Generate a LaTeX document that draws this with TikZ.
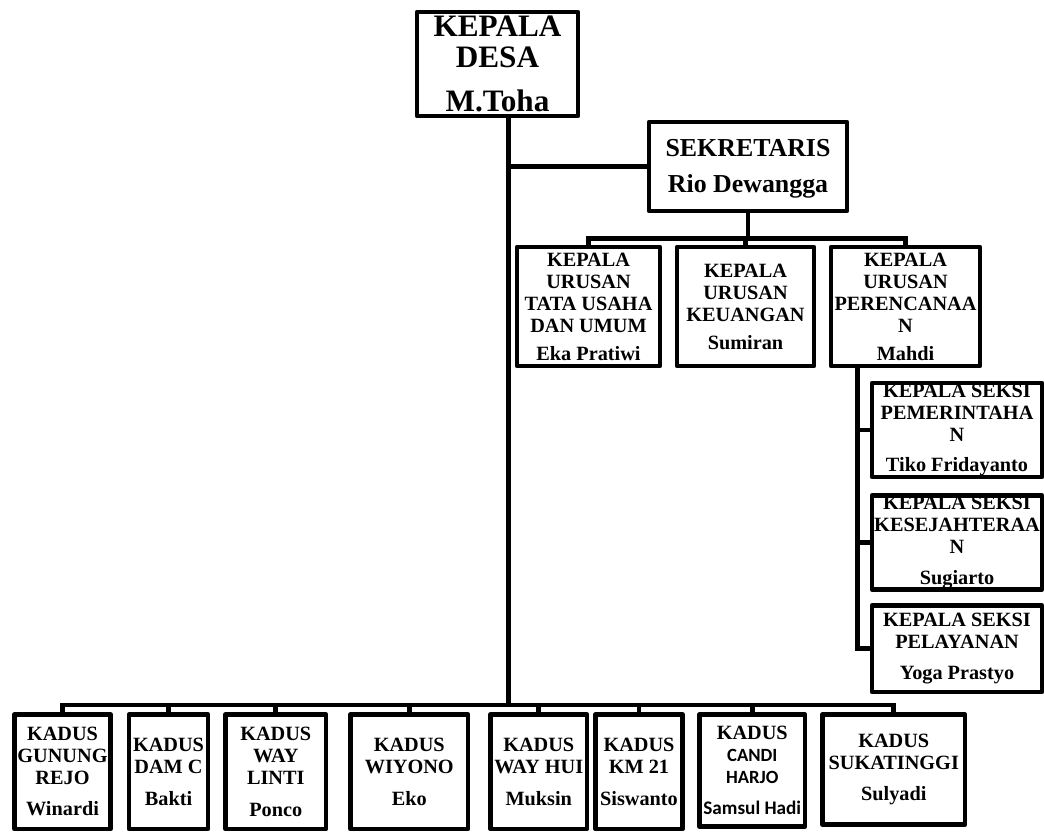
\documentclass[tikz,border=0pt]{standalone}
\usepackage{fontspec}
\setmainfont{Liberation Serif}
\newfontfamily\carlito{Carlito}
\begin{document}
\begin{tikzpicture}[x=0.75pt,y=-0.75pt,
  bx/.style 2 args={draw=black, line width=3.6pt, line join=round, inner sep=0pt,
     minimum width=#1*0.75pt, minimum height=#2*0.75pt, fill=white},
  ln/.style={line width=3.6pt, line cap=rect},
  tbig/.style={inner sep=0pt, align=center, font=\fontsize{23.4}{23.3}\selectfont\bfseries},
  tsek/.style={inner sep=0pt, align=center, font=\fontsize{19.4}{27}\selectfont\bfseries},
  tmid/.style={inner sep=0pt, align=center, font=\fontsize{15.2}{16.5}\selectfont\bfseries},
]
\useasboundingbox (0,0) rectangle (1044,832);
\coordinate (tb) at (508.5,705);
\coordinate (ub) at (749,238.5);
\coordinate (sv) at (857.5,646.5);

% boxes
\node[bx={161}{104}] (kd) at (497.5,64) {};
\node[bx={198}{89}] (sek) at (748,166.5) {};
\node[bx={143}{119}] (u1) at (588.5,306.5) {};
\node[bx={137}{119}] (u2) at (745.5,306.5) {};
\node[bx={149}{119}] (u3) at (905.5,306.5) {};
\node[bx={170}{94}] (s1) at (957,430) {};
\node[bx={170}{94}] (s2) at (957,542.5) {};
\node[bx={170}{86.5}] (s3) at (957,648.75) {};
\node[bx={96}{114.5}] (k1) at (62.5,771.75) {};
\node[bx={79}{114.5}] (k2) at (168.5,771.75) {};
\node[bx={100.5}{114.5}] (k3) at (275.75,771.75) {};
\node[bx={117.5}{114.5}] (k4) at (409.25,771.75) {};
\node[bx={96.5}{114.5}] (k5) at (538.75,771.75) {};
\node[bx={87}{114.5}] (k6) at (639,771.75) {};
\node[bx={105.5}{112}] (k7) at (752.25,770.5) {};
\node[bx={142.5}{110}] (k8) at (893.75,769.5) {};

% trunk
\draw[ln] (kd.south -| tb) -- (tb);
\draw[ln] (sek.west) -- (sek.west -| tb);
% sekretaris bus
\draw[ln] (sek.south) -- (sek.south |- ub);
\draw[ln] (u1.north |- ub) -- (u3.north |- ub);
\foreach \n in {u1,u2,u3} \draw[ln] (\n.north) -- (\n.north |- ub);
% seksi
\draw[ln] (u3.south -| sv) -- (sv);
\foreach \n in {s1,s2,s3} \draw[ln] (\n.west) -- (\n.west -| sv);
% kadus bus
\draw[ln] (k1.north |- tb) -- (k8.north |- tb);
\foreach \n in {k1,k2,k3,k4,k5,k6,k7,k8} \draw[ln] (\n.north) -- (\n.north |- tb);

% texts
\node[tbig] (kdt) at (kd) {KEPALA\\DESA\\[9.75pt]M.Toha};
\node[tsek] (sekt) at ([yshift=-1.5pt]sek.center) {SEKRETARIS\\Rio Dewangga};
\node[tmid] (u1t) at (u1) {KEPALA\\URUSAN\\TATA USAHA\\DAN UMUM\\[4.5pt]Eka Pratiwi};
\node[tmid] (u2t) at (u2) {KEPALA\\URUSAN\\KEUANGAN\\[4.5pt]Sumiran};
\node[tmid] (u3t) at (u3) {KEPALA\\URUSAN\\PERENCANAA\\N\\[4.5pt]Mahdi};
\node[tmid] (s1t) at (s1) {KEPALA SEKSI\\PEMERINTAHA\\N\\[6.5pt]Tiko Fridayanto};
\node[tmid] (s2t) at (s2) {KEPALA SEKSI\\KESEJAHTERAA\\N\\[6.5pt]Sugiarto};
\node[tmid] (s3t) at (s3) {KEPALA SEKSI\\PELAYANAN\\[7pt]Yoga Prastyo};
\node[tmid] (k1t) at (k1) {KADUS\\GUNUNG\\REJO\\[7pt]Winardi};
\node[tmid] (k2t) at (k2) {KADUS\\DAM C\\[7pt]Bakti};
\node[tmid] (k3t) at (k3) {KADUS\\WAY\\LINTI\\[7pt]Ponco};
\node[tmid] (k4t) at (k4) {KADUS\\WIYONO\\[7pt]Eko};
\node[tmid] (k5t) at (k5) {KADUS\\WAY HUI\\[7pt]Muksin};
\node[tmid] (k6t) at (k6) {KADUS\\KM 21\\[7pt]Siswanto};
\node[tmid] (k7t) at (k7) {KADUS\\{\carlito\bfseries\fontsize{14}{16.5}\selectfont CANDI}\\{\carlito\bfseries\fontsize{14}{16.5}\selectfont HARJO}\\[7pt]{\carlito\bfseries\fontsize{14.4}{16.5}\selectfont Samsul Hadi}};
\node[tmid] (k8t) at (k8) {KADUS\\SUKATINGGI\\[7pt]Sulyadi};
\end{tikzpicture}
\end{document}
